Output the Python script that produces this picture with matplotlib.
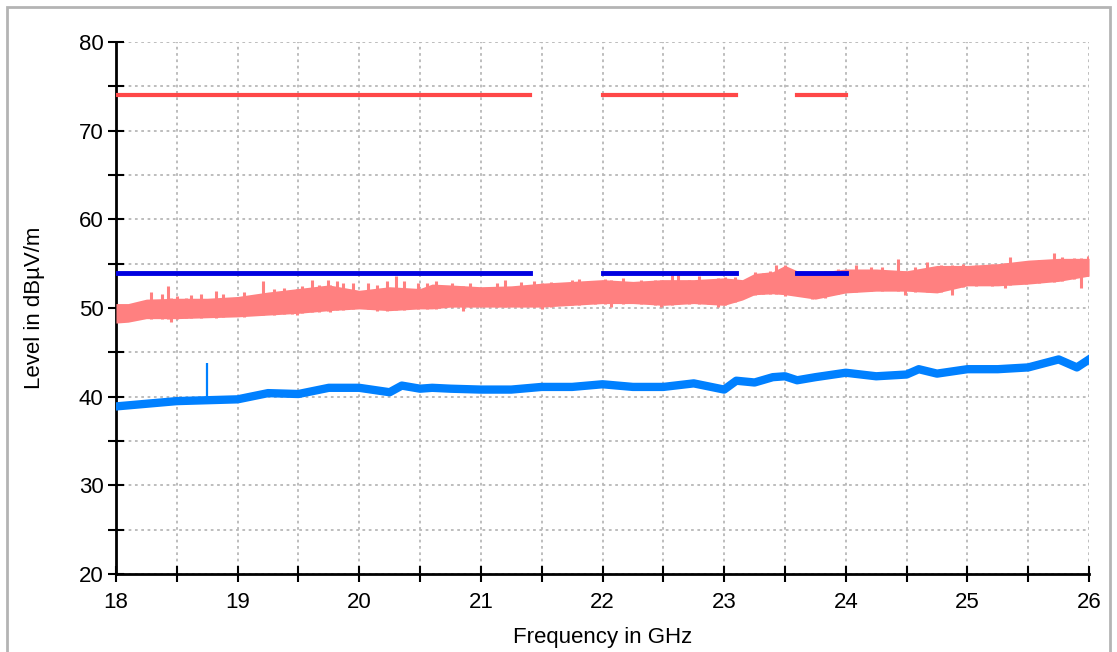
import matplotlib
matplotlib.use("Agg")
import numpy as np
import matplotlib.pyplot as plt
from matplotlib.patches import Rectangle
from matplotlib.ticker import MultipleLocator

# limit line segments (GHz)
seg_start = [18.0, 22.0, 23.6]
seg_end = [21.4, 23.1, 24.0]
peak_limit = 74
avg_limit = 54

# peak trace, read as upper / lower edge of the band
peak_freq = [18.0, 18.1, 18.25, 18.5, 18.75, 19.0, 19.25, 19.5, 19.75, 20.0,
             20.25, 20.5, 20.6, 20.75, 21.0, 21.25, 21.5, 21.75, 22.0, 22.25,
             22.5, 22.75, 23.0, 23.15, 23.25, 23.4, 23.5, 23.6, 23.75, 24.0,
             24.25, 24.5, 24.75, 25.0, 25.25, 25.5, 25.75, 26.0]
peak_upper = [50.5, 50.5, 51.0, 51.1, 51.1, 51.3, 51.8, 52.2, 52.6, 52.0,
              52.4, 52.2, 52.7, 52.6, 52.4, 52.5, 52.8, 53.0, 53.2, 53.0,
              53.2, 53.2, 53.4, 53.2, 53.9, 54.1, 54.8, 54.2, 54.0, 54.4,
              54.4, 54.2, 54.8, 54.8, 55.0, 55.4, 55.6, 55.6]
peak_lower = [48.3, 48.4, 48.8, 48.8, 48.9, 49.0, 49.2, 49.4, 49.7, 49.9,
              49.7, 49.9, 49.9, 50.1, 50.1, 50.1, 50.1, 50.3, 50.5, 50.5,
              50.3, 50.5, 50.3, 50.9, 51.5, 51.6, 51.5, 51.3, 51.0, 51.7,
              51.9, 51.9, 51.7, 52.5, 52.5, 52.7, 53.0, 53.6]

# narrow peaks sticking out above the band
spike_freq = [18.29, 18.38, 18.43, 18.5, 18.62, 18.7, 18.82, 18.88, 19.05,
              19.21, 19.3, 19.38, 19.45, 19.53, 19.61, 19.67, 19.74, 19.82,
              19.87, 19.95, 20.07, 20.15, 20.23, 20.3, 20.37, 20.48, 20.56,
              20.63, 20.76, 20.91, 21.13, 21.2, 21.33, 21.44, 21.58, 21.75,
              21.81, 21.94, 22.02, 22.17, 22.32, 22.43, 22.57, 22.62, 22.71,
              22.79, 22.87, 23.01, 23.09, 23.25, 23.32, 23.38, 23.43, 23.72,
              23.94, 24.08, 24.21, 24.3, 24.43, 24.57, 24.67, 24.78, 24.96,
              25.07, 25.2, 25.35, 25.48, 25.59, 25.71, 25.78, 25.88, 25.99]
spike_top = [51.8, 51.6, 52.5, 51.3, 51.45, 51.6, 51.9, 51.6, 51.8,
             53.0, 52.1, 52.2, 52.0, 52.5, 53.2, 52.6, 53.2, 53.0,
             52.8, 52.8, 52.8, 52.6, 53.0, 53.6, 53.0, 52.8, 52.8,
             53.0, 52.8, 52.8, 52.8, 53.2, 52.9, 53.0, 52.9, 53.2,
             53.25, 53.0, 53.25, 53.4, 53.2, 53.2, 53.7, 53.85, 53.2,
             53.6, 53.2, 53.5, 53.5, 54.1, 53.9, 54.2, 54.8, 54.0,
             54.4, 54.8, 54.6, 54.6, 55.5, 54.6, 55.2, 54.8, 55.0,
             54.9, 55.0, 55.7, 55.2, 55.4, 56.2, 55.8, 55.6, 55.9]

# narrow dips below the band
dip_freq = [18.45, 18.58, 19.49, 19.76, 20.15, 20.85, 21.5, 22.07, 22.48,
            22.95, 23.5, 23.83, 24.49, 24.87, 25.31, 25.93]
dip_bottom = [48.4, 48.9, 49.2, 49.6, 49.65, 49.65, 49.9, 50.1, 50.1,
              50.1, 51.3, 51.1, 51.5, 51.5, 52.3, 52.3]

# average trace (centre of the band)
avg_freq = [18.0, 18.25, 18.5, 18.75, 19.0, 19.25, 19.5, 19.75,
            20.0, 20.25, 20.35, 20.5, 20.6, 20.75, 21.0, 21.25, 21.5, 21.75,
            22.0, 22.25, 22.5, 22.75, 23.0, 23.1, 23.25, 23.4, 23.5, 23.6,
            23.75, 24.0, 24.25, 24.5, 24.6, 24.75, 25.0, 25.25, 25.5, 25.75,
            25.9, 26.0]
avg_level = [38.9, 39.2, 39.5, 39.6, 39.7, 40.4, 40.3, 41.0,
             41.0, 40.5, 41.25, 40.9, 41.0, 40.9, 40.8, 40.8, 41.1, 41.1,
             41.4, 41.1, 41.1, 41.5, 40.8, 41.8, 41.6, 42.2, 42.3, 41.85,
             42.2, 42.7, 42.3, 42.5, 43.1, 42.6, 43.1, 43.1, 43.3, 44.2,
             43.3, 44.2]
avg_spike_freq = 18.75
avg_spike_top = 43.8

plt.rcParams['font.family'] = ['Liberation Sans', 'DejaVu Sans']

fig = plt.figure(figsize=(11.17, 6.52), dpi=100)
ax = fig.add_axes([0.1038, 0.1196, 0.8712, 0.816])

# border round the picture
fig.patches.append(Rectangle((7 / 1117, -0.05), 1103 / 1117, 1.05 - 7 / 652,
                             transform=fig.transFigure, fill=False,
                             edgecolor='#b4b4b4', lw=2))

pink = '#ff8080'
ax.fill_between(peak_freq, peak_lower, peak_upper, color=pink, lw=0, zorder=3)
# peaks and dips hang on the band
ax.vlines(spike_freq, np.interp(spike_freq, peak_freq, peak_lower), spike_top,
          color=pink, lw=2.2, zorder=3)
ax.vlines(dip_freq, dip_bottom, np.interp(dip_freq, peak_freq, peak_upper),
          color=pink, lw=2.2, zorder=3)

ax.plot(avg_freq, avg_level, color='#0080ff', lw=6, zorder=4)
ax.vlines(avg_spike_freq, 39.6, avg_spike_top, color='#0080ff', lw=1.6,
          zorder=4)

for a, b in zip(seg_start, seg_end):
    ax.plot([a, b], [peak_limit, peak_limit], color='#ff4848', lw=3, zorder=5)
    ax.plot([a, b], [avg_limit, avg_limit], color='#0000e0', lw=3.5, zorder=5)

ax.set_xlim(18, 26)
ax.set_ylim(20, 80)
ax.xaxis.set_major_locator(MultipleLocator(1))
ax.xaxis.set_minor_locator(MultipleLocator(0.5))
ax.yaxis.set_major_locator(MultipleLocator(10))
ax.yaxis.set_minor_locator(MultipleLocator(5))
ax.grid(True, which='both', color='#b8b8b8', ls=(0, (1.5, 2)), lw=1.3,
        zorder=0)
ax.tick_params(which='both', direction='inout', length=12, width=1.5,
               labelsize=16)
ax.tick_params(axis='x', pad=7)
ax.tick_params(axis='y', pad=3)

ax.spines['top'].set_visible(False)
ax.spines['right'].set_visible(False)
ax.spines['left'].set_linewidth(2)
ax.spines['bottom'].set_linewidth(2)

ax.set_xlabel("Frequency in GHz", fontsize=16, labelpad=10)
ax.set_ylabel("Level in dBµV/m", fontsize=16, labelpad=24)

fig.savefig("out.png", dpi=100)
